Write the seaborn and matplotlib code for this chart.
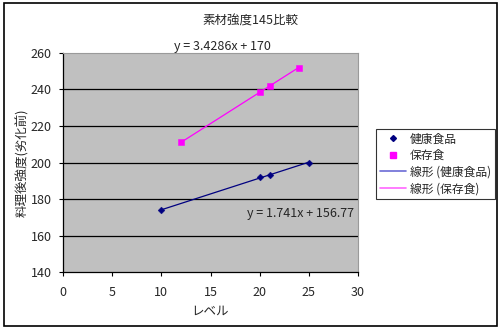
import matplotlib
matplotlib.use("Agg")
import matplotlib.pyplot as plt
from matplotlib.lines import Line2D
from matplotlib.patches import Rectangle
import seaborn as sns
import pandas as pd

sns.set_theme(style="white")
plt.rcParams['font.family'] = ['Noto Sans CJK JP', 'DejaVu Sans']

# 健康食品 series
health_level = [10, 20, 21, 25]
health_strength = [174, 192, 193, 200]
# 保存食 series
preserved_level = [12, 20, 21, 24]
preserved_strength = [211, 238.5, 242, 252]

x_ticks = [0, 5, 10, 15, 20, 25, 30]
y_ticks = [140, 160, 180, 200, 220, 240, 260]

navy = "#000080"
magenta = "#FF00FF"

df_h = pd.DataFrame({"レベル": health_level, "強度": health_strength})
df_p = pd.DataFrame({"レベル": preserved_level, "強度": preserved_strength})

fig = plt.figure(figsize=(5.0, 3.29), dpi=100)
fig.patch.set_facecolor("white")
fig.patches.append(Rectangle((0.008, 0.008), 0.986, 0.984, transform=fig.transFigure,
                             fill=False, edgecolor="black", linewidth=1.2))

ax = fig.add_axes([0.126, 0.173, 0.59, 0.666])
ax.set_facecolor("#C0C0C0")

for y in y_ticks[1:-1]:
    ax.axhline(y, color="black", linewidth=0.9, zorder=1)

# linear trendlines
sns.regplot(data=df_h, x="レベル", y="強度", ax=ax, scatter=False, ci=None,
            truncate=True, line_kws={"color": navy, "linewidth": 0.9, "zorder": 2})
sns.regplot(data=df_p, x="レベル", y="強度", ax=ax, scatter=False, ci=None,
            truncate=True, line_kws={"color": magenta, "linewidth": 0.9, "zorder": 2})

# data points
sns.scatterplot(data=df_h, x="レベル", y="強度", ax=ax, marker="D", s=12,
                color=navy, edgecolor=navy, zorder=3)
sns.scatterplot(data=df_p, x="レベル", y="強度", ax=ax, marker="s", s=22,
                color=magenta, edgecolor=magenta, zorder=3)

ax.set_xlim(0, 30)
ax.set_ylim(140, 260)
ax.set_xticks(x_ticks)
ax.set_yticks(y_ticks)
ax.tick_params(axis="both", labelsize=9, length=3, width=0.8, color="black",
               direction="out", bottom=True, left=True)
ax.tick_params(axis="x", pad=7)
ax.tick_params(axis="y", pad=5)
for s in ["left", "bottom"]:
    ax.spines[s].set_color("black")
    ax.spines[s].set_linewidth(0.9)
for s in ["top", "right"]:
    ax.spines[s].set_color("#9a9a9a")
    ax.spines[s].set_linewidth(0.8)

ax.set_xlabel("レベル", fontsize=9, labelpad=4)
ax.set_ylabel("料理後強度(劣化前)", fontsize=9, labelpad=1)

# trendline equations
fig.text(0.444, 0.860, "y = 3.4286x + 170", fontsize=9, ha="center", va="center")
ax.text(24.2, 172.3, "y = 1.741x + 156.77", fontsize=9, ha="center", va="center")

fig.text(0.5, 0.935, "素材強度145比較", fontsize=9, ha="center", va="center")

handles = [
    Line2D([], [], marker="D", color=navy, linestyle="none", markersize=3),
    Line2D([], [], marker="s", color=magenta, linestyle="none", markersize=4),
    Line2D([], [], color="#6b6bd6", linewidth=1.2),
    Line2D([], [], color="#ff66ff", linewidth=1.2),
]
labels = ["健康食品", "保存食", "線形 (健康食品)", "線形 (保存食)"]
leg = fig.legend(handles, labels, loc="upper left", bbox_to_anchor=(0.752, 0.608),
                 fontsize=8.5, frameon=True, fancybox=False, handlelength=2.2,
                 handletextpad=0.4, borderpad=0.3, labelspacing=0.3, borderaxespad=0)
leg.get_frame().set_edgecolor("black")
leg.get_frame().set_linewidth(0.8)

fig.savefig("out.png", dpi=100)
